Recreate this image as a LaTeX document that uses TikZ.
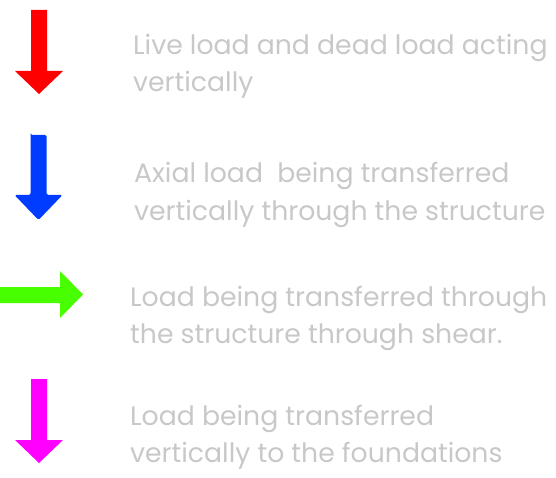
\documentclass[tikz,border=0pt]{standalone}
\usepackage{fontspec}
\setmainfont{Poppins}[Ligatures=NoCommon]
\definecolor{textgray}{RGB}{200,200,200}
\definecolor{loadred}{RGB}{255,0,0}
\definecolor{loadblue}{RGB}{0,60,255}
\definecolor{loadgreen}{RGB}{72,255,0}
\definecolor{loadpink}{RGB}{255,0,255}

% downward load arrow: colour, shaft left x, top y, head start y, tip y
\newcommand{\download}[5]{%
  \fill[#1] (#2,#3) -- ++(16,0) |- (#2+32,#4) -- (#2+8,#5) -- (#2-16,#4) -| cycle;}

\tikzset{
  legendtext/.style={anchor=base west, inner sep=0pt, align=left,
    text=textgray, font=\fontsize{26.7}{37}\selectfont},
}

\begin{document}
\begin{tikzpicture}[x=1pt,y=-1pt]
    \useasboundingbox (0,0) rectangle (556,478);

    \download{loadred}{31}{10}{71}{94}
    \download{loadblue, rounded corners=1.5pt}{30.5}{135}{195}{220}
    \fill[loadgreen] (0,287) -- (60,287) |- (60,271) -- (83,294.5) -- (60,318) |- (0,303) -- cycle;
    \download{loadpink}{31}{379}{440}{463}

    % anchors sit on the baseline of the last line
    \node[legendtext] (live) at (133,92) {Live load and dead load acting\\vertically};
    \node[legendtext] (axial) at (134,220) {Axial load\ \ being transferred\\vertically through the structure};
    \node[legendtext] (shear) at (130,343) {Load being transferred through\\the structure through shear.};
    \node[legendtext] (found) at (130,462) {Load being transferred\\vertically to the foundations};
\end{tikzpicture}
\end{document}
